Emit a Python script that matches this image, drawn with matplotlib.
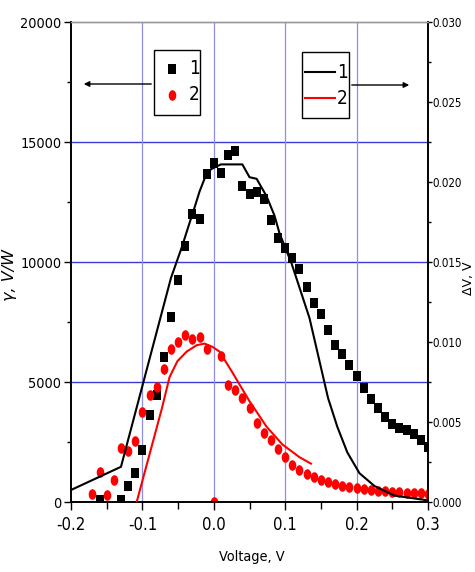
import os
import numpy as np
import matplotlib
matplotlib.use("Agg")
import matplotlib.pyplot as plt
from matplotlib import font_manager
from matplotlib.font_manager import FontProperties
from matplotlib.patches import Rectangle, FancyArrowPatch
from matplotlib.lines import Line2D
from matplotlib.ticker import MultipleLocator, FormatStrFormatter

# ---------------- data ----------------
# gamma (left axis), curve 1 : black squares
sq_x = [-0.16, -0.13, -0.12, -0.11, -0.10, -0.09, -0.08, -0.07, -0.06, -0.05,
        -0.04, -0.03, -0.02, -0.01, 0.00, 0.01, 0.02, 0.03, 0.04, 0.05,
        0.06, 0.07, 0.08, 0.09, 0.10, 0.11, 0.12, 0.13, 0.14, 0.15,
        0.16, 0.17, 0.18, 0.19, 0.20, 0.21, 0.22, 0.23, 0.24, 0.25,
        0.26, 0.27, 0.28, 0.29, 0.30]
sq_y = [100, 100, 670, 1200, 2170, 3620, 4460, 6040, 7710, 9250,
        10670, 12000, 11790, 13670, 14120, 13700, 14460, 14620, 13170, 12830,
        12920, 12620, 11750, 11000, 10580, 10170, 9710, 8960, 8300, 7830,
        7170, 6540, 6170, 5710, 5250, 4750, 4300, 3900, 3550, 3250,
        3080, 2980, 2850, 2600, 2300]

# gamma (left axis), curve 2 : red circles
ci_x = [-0.17, -0.16, -0.15, -0.14, -0.13, -0.12, -0.11, -0.10, -0.09, -0.08,
        -0.07, -0.06, -0.05, -0.04, -0.03, -0.02, -0.01, 0.00, 0.01, 0.02,
        0.03, 0.04, 0.05, 0.06, 0.07, 0.08, 0.09, 0.10, 0.11, 0.12,
        0.13, 0.14, 0.15, 0.16, 0.17, 0.18, 0.19, 0.20, 0.21, 0.22,
        0.23, 0.24, 0.25, 0.26, 0.27, 0.28, 0.29, 0.30]
ci_y = [330, 1250, 290, 920, 2250, 2120, 2540, 3750, 4460, 4790,
        5540, 6370, 6670, 6960, 6790, 6880, 6370, 0, 6080, 4870,
        4670, 4350, 3900, 3290, 2870, 2580, 2200, 1870, 1540, 1330,
        1170, 1040, 920, 830, 750, 670, 620, 580, 540, 500,
        470, 440, 420, 400, 390, 380, 370, 350]

# Delta V (right axis), curve 1 : black line
bl_x = [-0.20, -0.13, -0.06, -0.045, -0.035, -0.027, -0.020, -0.013, -0.004, 0.010,
        0.040, 0.050, 0.060, 0.074, 0.085, 0.092, 0.109, 0.134, 0.160, 0.173,
        0.187, 0.204, 0.225, 0.253, 0.300]
bl_y = [0.00075, 0.0022, 0.0140, 0.0159, 0.0173, 0.0184, 0.0194, 0.0202, 0.0208, 0.0211,
        0.0211, 0.0203, 0.0202, 0.0191, 0.0179, 0.0168, 0.0149, 0.0115, 0.0065, 0.0047,
        0.0031, 0.0018, 0.0010, 0.0004, 0.0001]

# Delta V (right axis), curve 2 : red line
rl_x = [-0.108, -0.073, -0.062, -0.051, -0.038, -0.024, -0.013, -0.002, 0.008, 0.026,
        0.050, 0.074, 0.096, 0.120, 0.136]
rl_y = [0.0, 0.0058, 0.0078, 0.0088, 0.0094, 0.0098, 0.0099, 0.0097, 0.0094, 0.0081,
        0.0063, 0.0047, 0.0036, 0.0028, 0.0024]

legend_labels = ["1", "2"]
x_label = "Voltage, V"
yl_label = "γ, V/W"
yr_label = "ΔV, V"

# ---------------- fonts ----------------
# look for a condensed sans font (the reference uses narrow Arial-like digits)
narrow_path = None
narrow_kind = None
prefs = [("LiberationSansNarrow-Regular", 0.456), ("ArialNarrow", 0.456),
         ("DejaVuSansCondensed.ttf", 0.57), ("RobotoCondensed-Regular", 0.5),
         ("OpenSans_Condensed-Regular", 0.5), ("OpenSansCondensed-Regular", 0.5)]
files = [f.fname for f in font_manager.fontManager.ttflist]
for key, w in prefs:
    for fn in files:
        if os.path.basename(fn).startswith(key) or os.path.basename(fn) == key:
            narrow_path, narrow_kind = fn, w
            break
    if narrow_path:
        break

if narrow_path:
    NP = lambda size: FontProperties(fname=narrow_path, size=size)
    scale = 0.456 / narrow_kind
else:
    NP = lambda size: FontProperties(family="Liberation Sans", size=size)
    scale = 0.456 / 0.556

plt.rcParams["font.family"] = ["Liberation Sans", "DejaVu Sans"]

W, H = 475, 572
fig = plt.figure(figsize=(W / 100, H / 100), dpi=100)

def fx(px):
    return px / W

def fy(py):
    return 1 - py / H

L, R, T, B = 71, 428, 22, 502
ax = fig.add_axes([fx(L), fy(B), (R - L) / W, (B - T) / H])
ax2 = ax.twinx()

# marker shapes (vertically stretched like the reference)
sq_marker = [(-0.72, -1), (0.72, -1), (0.72, 1), (-0.72, 1), (-0.72, -1)]
th = np.linspace(0, 2 * np.pi, 40)
el_marker = list(zip(0.72 * np.cos(th), np.sin(th)))

# grid
for yv in [5000, 10000, 15000]:
    ax.axhline(yv, color="#3a3ad6", lw=1.0, zorder=0)
for xv in [-0.1, 0.0, 0.1, 0.2]:
    ax.axvline(xv, color="#8e8ee8", lw=0.9, zorder=0)

ax.plot(sq_x, sq_y, linestyle="none", marker=sq_marker, markersize=7.2,
        color="black", markeredgewidth=0, zorder=3)
ax.plot(ci_x, ci_y, linestyle="none", marker=el_marker, markersize=7.6,
        color="#ff0000", markeredgewidth=0, zorder=3)

ax2.plot(bl_x, bl_y, color="black", lw=1.5, zorder=4)
ax2.plot(rl_x, rl_y, color="#ff0000", lw=1.5, zorder=4)

ax.set_xlim(-0.2, 0.3)
ax.set_ylim(0, 20000)
ax2.set_ylim(0, 0.030)

ax.xaxis.set_major_locator(MultipleLocator(0.1))
ax.xaxis.set_minor_locator(MultipleLocator(0.05))
ax.xaxis.set_major_formatter(FormatStrFormatter("%.1f"))
ax.yaxis.set_major_locator(MultipleLocator(5000))
ax.yaxis.set_minor_locator(MultipleLocator(2500))
ax2.yaxis.set_major_locator(MultipleLocator(0.005))
ax2.yaxis.set_minor_locator(MultipleLocator(0.0025))
ax2.yaxis.set_major_formatter(FormatStrFormatter("%.3f"))

ax.tick_params(axis="both", which="major", direction="out", length=5, width=1, pad=2)
ax.tick_params(axis="both", which="minor", direction="out", length=3, width=1)
ax.tick_params(axis="x", which="major", length=6, pad=4)
ax.tick_params(axis="x", which="minor", length=5)
ax.tick_params(axis="y", right=False)
ax2.tick_params(axis="y", which="major", direction="out", length=3, width=1, pad=0.5)
ax2.tick_params(axis="y", which="minor", direction="out", length=2, width=1)

fig.canvas.draw()
for lab in ax.get_yticklabels():
    lab.set_fontproperties(NP(13.0 * scale))
for lab in ax.get_xticklabels():
    lab.set_fontproperties(NP(15.0 * scale))
for lab in ax2.get_yticklabels():
    lab.set_fontproperties(NP(10.4 * scale))

for a in (ax, ax2):
    a.spines["top"].set_color("#999999")
    a.spines["top"].set_linewidth(1.0)
    for s in ("left", "bottom", "right"):
        a.spines[s].set_linewidth(1.2)
        a.spines[s].set_color("black")

fig.text(fx(252), fy(557), x_label, ha="center", va="center",
         fontproperties=NP(13.0 * scale))
fig.text(fx(2), fy(275), yl_label, ha="left", va="center", rotation=90,
         fontsize=11.5, style="italic", family=["DejaVu Sans"])
fig.text(fx(475), fy(278), yr_label, ha="right", va="center", rotation=90,
         fontsize=9, family=["DejaVu Sans"])

# ---------------- legends (drawn as boxes with arrows) ----------------
def add(artist):
    artist.set_transform(fig.transFigure)
    fig.add_artist(artist)

# left legend (symbols) -> left axis
add(Rectangle((fx(154), fy(115)), 46 / W, 65 / H, facecolor="white",
              edgecolor="black", lw=1.0, zorder=10))
add(Line2D([fx(172)], [fy(69)], linestyle="none", marker=sq_marker, markersize=7.2,
           color="black", markeredgewidth=0, zorder=11))
add(Line2D([fx(172)], [fy(95)], linestyle="none", marker=el_marker, markersize=7.6,
           color="#ff0000", markeredgewidth=0, zorder=11))
fig.text(fx(189), fy(69), legend_labels[0], ha="left", va="center",
         fontproperties=NP(17.0 * scale), zorder=12)
fig.text(fx(189), fy(95), legend_labels[1], ha="left", va="center",
         fontproperties=NP(17.0 * scale), zorder=12)
fig.add_artist(FancyArrowPatch((fx(154), fy(84)), (fx(81), fy(84)),
                               transform=fig.transFigure, arrowstyle="-|>",
                               mutation_scale=8, color="black", lw=1.0, zorder=10))

# right legend (lines) -> right axis
add(Rectangle((fx(302), fy(118)), 47 / W, 66 / H, facecolor="white",
              edgecolor="black", lw=1.0, zorder=10))
add(Line2D([fx(305), fx(335)], [fy(72), fy(72)], color="black", lw=1.5, zorder=11))
add(Line2D([fx(305), fx(335)], [fy(98), fy(98)], color="#ff0000", lw=1.5, zorder=11))
fig.text(fx(337), fy(72), legend_labels[0], ha="left", va="center",
         fontproperties=NP(17.0 * scale), zorder=12)
fig.text(fx(337), fy(98), legend_labels[1], ha="left", va="center",
         fontproperties=NP(17.0 * scale), zorder=12)
fig.add_artist(FancyArrowPatch((fx(349), fy(85)), (fx(412), fy(85)),
                               transform=fig.transFigure, arrowstyle="-|>",
                               mutation_scale=8, color="black", lw=1.0, zorder=10))

fig.savefig("out.png", dpi=100)
